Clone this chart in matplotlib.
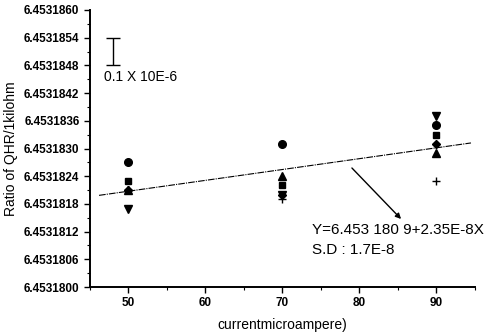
import numpy as np
import matplotlib.pyplot as plt
from matplotlib.ticker import MultipleLocator, FormatStrFormatter

plt.rcParams['font.family'] = ['Liberation Sans', 'DejaVu Sans']

current = [50, 70, 90]
circle = [6.4531827, 6.4531831, 6.4531835]
square = [6.4531823, 6.4531822, 6.4531833]
tri_up = [6.4531821, 6.4531824, 6.4531829]
tri_down = [6.4531817, 6.4531820, 6.4531837]
diamond = [6.4531821, 6.4531820, 6.4531831]
plus = [6.4531821, 6.4531819, 6.4531823]

# linear fit Y = a + b X
fit_a = 6.4531809
fit_b = 2.35e-8
fit_x = [46.2, 94.5]

# scale bar
bar_x = 48.0
bar_lo, bar_hi = 6.4531848, 6.4531854

fig = plt.figure(figsize=(4.88, 3.33), dpi=100)
ax = fig.add_axes([0.184, 0.138, 0.789, 0.832])

series = [(circle, 'o', 5.5), (square, 's', 5), (diamond, 'D', 4),
          (tri_up, '^', 5.5), (tri_down, 'v', 5.5), (plus, '+', 5.5)]
for vals, mk, ms in series:
    ax.plot(current, vals, linestyle='none', marker=mk, markersize=ms,
            color='black', markeredgewidth=1.0)

fx = np.array(fit_x)
ax.plot(fx, fit_a + fit_b * fx, color='black', lw=0.8,
        linestyle=(0, (6, 1, 1, 1)))

ax.errorbar([bar_x], [(bar_lo + bar_hi) / 2], yerr=[(bar_hi - bar_lo) / 2],
            color='black', capsize=5, lw=1.0, capthick=1.0, fmt='none')
ax.text(46.9, 6.45318455, '0.1 X 10E-6', fontsize=10, va='center')

ax.annotate('', xy=(403, 333 - 221), xycoords='figure pixels',
            xytext=(350, 333 - 166), textcoords='figure pixels',
            arrowprops=dict(arrowstyle='-|>', color='black', lw=1.0,
                            mutation_scale=8))
fig.text(312 / 488, 1 - 230 / 333, 'Y=6.453 180 9+2.35E-8X', fontsize=11,
         va='center')
fig.text(312 / 488, 1 - 250 / 333, 'S.D : 1.7E-8', fontsize=11, va='center')

ax.set_xlim(45, 95)
ax.set_ylim(6.45318, 6.453186)
ax.xaxis.set_major_locator(MultipleLocator(10))
ax.xaxis.set_minor_locator(MultipleLocator(5))
ax.yaxis.set_major_locator(MultipleLocator(6e-7))
ax.yaxis.set_minor_locator(MultipleLocator(3e-7))
ax.yaxis.set_major_formatter(FormatStrFormatter('%.7f'))

for s in ['top', 'right']:
    ax.spines[s].set_visible(False)
for s in ['left', 'bottom']:
    ax.spines[s].set_linewidth(1.4)
ax.tick_params(which='major', direction='out', length=4, width=1.0,
               labelsize=8.5)
ax.tick_params(which='minor', direction='out', length=2.5, width=0.8)
for lab in ax.get_yticklabels() + ax.get_xticklabels():
    lab.set_fontweight('bold')

ax.set_ylabel('Ratio of QHR/1kilohm', fontsize=10, labelpad=4)
ax.set_xlabel('currentmicroampere)', fontsize=10, labelpad=6)

fig.savefig('out.png', dpi=100)
